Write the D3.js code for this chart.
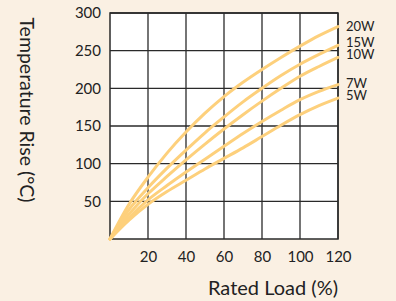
<!DOCTYPE html>
<html>
<head>
<meta charset="utf-8">
<script src="https://cdn.jsdelivr.net/npm/d3@7"></script>
<style>
  html, body { margin: 0; padding: 0; background: #faf0e3; }
</style>
</head>
<body>
<div id="app"></div>
<script>
// load (%) sample points
const loads = [0, 10, 20, 30, 40, 50, 60, 70, 80, 90, 100, 110, 120];

// temperature rise (°C) per rating
const w20 = [0, 46, 82, 114, 142, 167, 189, 208, 225, 241, 256, 270, 282];
const w15 = [0, 39, 68, 94, 118, 141, 162, 182, 200, 217, 232, 245, 257];
const w10 = [0, 33, 60, 83, 105, 126, 146, 165, 183, 200, 216, 229, 241];
const w7  = [0, 28, 52, 71, 89, 106, 123, 140, 156, 171, 185, 196, 205];
const w5  = [0, 25, 46, 63, 78, 93, 107, 121, 136, 151, 165, 177, 187];

const seriesNames = ["20W", "15W", "10W", "7W", "5W"];
const seriesValues = [w20, w15, w10, w7, w5];

const xTicks = [20, 40, 60, 80, 100, 120];
const yTicks = [50, 100, 150, 200, 250, 300];

const width = 396;
const height = 301;
const marginTop = 13;
const marginRight = 58;
const marginBottom = 62;
const marginLeft = 110;

const x = d3.scaleLinear()
  .domain([0, 120])
  .range([marginLeft, width - marginRight]);

const y = d3.scaleLinear()
  .domain([0, 300])
  .range([height - marginBottom, marginTop]);

const svg = d3.select("#app")
  .append("svg")
  .attr("width", width)
  .attr("height", height)
  .attr("viewBox", [0, 0, width, height])
  .style("font-family", "Lato, 'Open Sans', sans-serif");

svg.append("rect")
  .attr("width", width)
  .attr("height", height)
  .attr("fill", "#faf0e3");

// plot area
svg.append("rect")
  .attr("x", marginLeft)
  .attr("y", marginTop)
  .attr("width", width - marginLeft - marginRight)
  .attr("height", height - marginTop - marginBottom)
  .attr("fill", "#fff");

// grid
svg.append("g")
    .attr("stroke", "#2a2a2a")
    .attr("stroke-width", 1.3)
  .call(g => g.append("g")
    .selectAll("line")
    .data(xTicks)
    .join("line")
      .attr("x1", d => x(d))
      .attr("x2", d => x(d))
      .attr("y1", marginTop)
      .attr("y2", height - marginBottom))
  .call(g => g.append("g")
    .selectAll("line")
    .data(yTicks)
    .join("line")
      .attr("y1", d => y(d))
      .attr("y2", d => y(d))
      .attr("x1", marginLeft)
      .attr("x2", width - marginRight));

// frame
svg.append("rect")
  .attr("x", marginLeft)
  .attr("y", marginTop)
  .attr("width", width - marginLeft - marginRight)
  .attr("height", height - marginTop - marginBottom)
  .attr("fill", "none")
  .attr("stroke", "#2a2a2a")
  .attr("stroke-width", 1.5);

// tick labels (no tick marks)
svg.append("g")
    .attr("transform", `translate(0,${height - marginBottom})`)
    .call(d3.axisBottom(x).tickValues(xTicks).tickSize(0).tickPadding(12))
    .call(g => g.select(".domain").remove())
    .call(g => g.selectAll("text")
      .attr("font-size", 15)
      .attr("font-family", "Lato, 'Open Sans', sans-serif")
      .attr("fill", "#222"));

svg.append("g")
    .attr("transform", `translate(${marginLeft},0)`)
    .call(d3.axisLeft(y).tickValues(yTicks).tickSize(0).tickPadding(9))
    .call(g => g.select(".domain").remove())
    .call(g => g.selectAll("text")
      .attr("font-size", 15)
      .attr("font-family", "Lato, 'Open Sans', sans-serif")
      .attr("fill", "#222"));

// curves
const line = d3.line()
  .x((d, i) => x(loads[i]))
  .y(d => y(d))
  .curve(d3.curveCatmullRom);

svg.append("g")
    .attr("fill", "none")
    .attr("stroke", "#fdd07c")
    .attr("stroke-width", 3)
    .attr("stroke-linecap", "round")
  .selectAll("path")
  .data(seriesValues)
  .join("path")
    .attr("d", d => line(d));

// series labels at line ends (small nudges to keep them apart)
const nudge = {"20W": 0, "15W": -2.5, "10W": -3, "7W": -1, "5W": -2.5};
svg.append("g")
    .attr("font-size", 13)
    .attr("fill", "#222")
  .selectAll("text")
  .data(seriesNames)
  .join("text")
    .attr("x", width - marginRight + 8)
    .attr("y", (d, i) => y(seriesValues[i][seriesValues[i].length - 1]) + nudge[d])
    .attr("dy", "0.35em")
    .text(d => d);

// axis titles
svg.append("text")
  .attr("x", 273)
  .attr("y", 295)
  .attr("text-anchor", "middle")
  .attr("font-size", 20)
  .attr("fill", "#222")
  .text("Rated Load (%)");

svg.append("text")
  .attr("transform", "translate(20,110) rotate(90)")
  .attr("text-anchor", "middle")
  .attr("font-size", 19.5)
  .attr("fill", "#222")
  .text("Temperature Rise (°C)");
</script>
</body>
</html>
